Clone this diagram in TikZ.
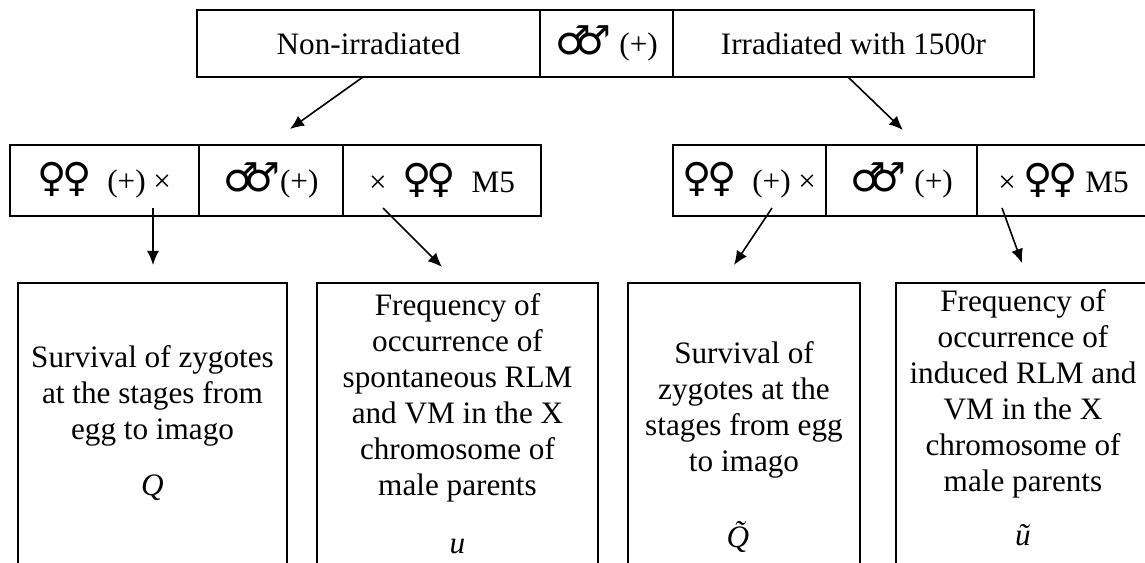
\documentclass[tikz,border=0pt]{standalone}
\usepackage{fontspec}
\setmainfont{Liberation Serif}
\newfontfamily\symfont{DejaVu Sans}
\usetikzlibrary{arrows.meta, positioning}
\tikzstyle{arrow} = [thick,->,>={Latex[length=7pt,width=6pt]}]
\tikzstyle{cell} = [draw, line width=0.6pt, outer sep=0pt, inner xsep=2pt, minimum height=33.5pt]
\tikzstyle{pair} = [cell, minimum height=35.5pt]
\tikzstyle{lowbox} = [draw, line width=0.6pt, outer sep=0pt, minimum height=150pt]
\tikzstyle{lowtext} = [align=center, inner sep=0pt]
\newcommand{\females}{{\fontsize{20pt}{20pt}\symfont ♀\kern-0.12em♀}}
\newcommand{\males}{{\fontsize{20pt}{20pt}\symfont ♂\kern-0.38em♂}}

\begin{document}
\begin{tikzpicture}[x=1pt, y=1pt, font=\fontsize{15.6pt}{18pt}\selectfont]
	\useasboundingbox (0,0) rectangle (572.5,281);
	% parents
	\node[cell, minimum width=171.5pt, anchor=north west] at (98.5,276) (nonirr)   {Non-irradiated};
	\node[cell, minimum width=66.5pt, right=0pt of nonirr]               (topmales) {\males\ (+)};
	\node[cell, minimum width=180.5pt, right=0pt of topmales]            (irr)      {Irradiated with 1500r};
	
	% crosses
	\node[pair, minimum width=94.5pt, anchor=north west] at (5,208.5)    (lfem)     {\females\ \ (+) ×};
	\node[pair, minimum width=72pt, right=0pt of lfem]                   (lmales)   {\males(+)};
	\node[pair, minimum width=99pt, right=0pt of lmales]                 (lm5)      {× \ \females\ \ M5};
	\node[pair, minimum width=76.5pt, anchor=north west] at (336.5,208.5) (rfem)    {\females\ \ (+) ×};
	\node[pair, minimum width=75.5pt, right=0pt of rfem]                 (rmales)   {\males\ (+)};
	\node[pair, minimum width=86.5pt, right=0pt of rmales]               (rm5)      {× \females\ M5};
	
	% results
	\node[lowbox, minimum width=134.5pt, anchor=north west] at (9,139.5) (survbox)  {};
	\node[lowbox, minimum width=140.5pt, right=15pt of survbox]          (spontbox) {};
	\node[lowbox, minimum width=116pt, right=15pt of spontbox]           (irrsbox)  {};
	\node[lowbox, minimum width=127pt, right=18pt of irrsbox]            (indbox)   {};
	
	\node[lowtext, below=31pt of survbox.north]  (survtxt)  {Survival of zygotes\\at the stages from\\egg to imago\\[10pt]\textit{Q}};
	\node[lowtext, below=5.3pt of spontbox.north] (sponttxt) {Frequency of\\occurrence of\\spontaneous RLM\\and VM in the X\\chromosome of\\male parents\\[11pt]\textit{u}};
	\node[lowtext, below=29.3pt of irrsbox.north] (irrstxt)  {Survival of\\zygotes at the\\stages from egg\\to imago\\[20pt]\textit{\~Q}};
	\node[lowtext, below=3.3pt of indbox.north]  (indtxt)   {Frequency of\\occurrence of\\induced RLM and\\VM in the X\\chromosome of\\male parents\\[9pt]\textit{\~u}};
	
	\coordinate (toleft)   at (145,216.5);
	\coordinate (toright)  at (451.5,216);
	\coordinate (tosurv)   at (76.5,148.5);
	\coordinate (tospont)  at (221,147.5);
	\coordinate (toirrs)   at (367,148.5);
	\coordinate (toind)    at (511,149.5);
	
	\draw[arrow] ([xshift=-2.75pt]nonirr.south)          -- (toleft);
	\draw[arrow] ([xshift=-2.75pt]irr.south)             -- (toright);
	\draw[arrow] ([xshift=24.25pt,yshift=4pt]lfem.south) -- (tosurv);
	\draw[arrow] ([xshift=-29.5pt,yshift=4pt]lm5.south)  -- (tospont);
	\draw[arrow] ([xshift=11.25pt,yshift=4pt]rfem.south) -- (toirrs);
	\draw[arrow] ([xshift=-30.75pt,yshift=4pt]rm5.south) -- (toind);
\end{tikzpicture}
\end{document}
